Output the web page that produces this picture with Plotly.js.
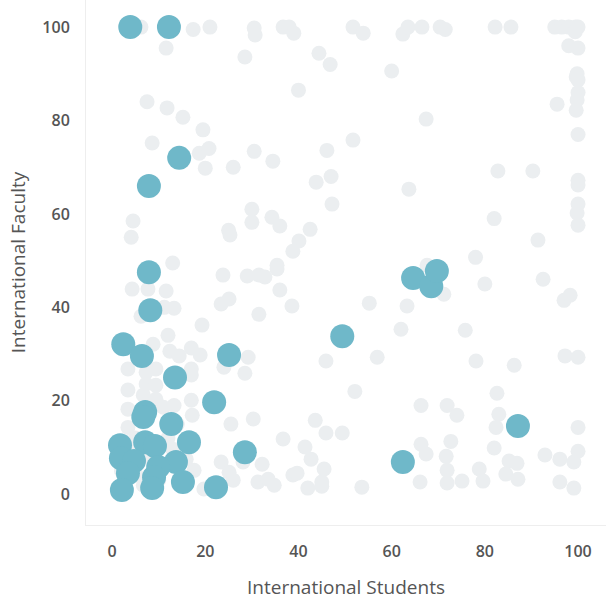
<!DOCTYPE html>
<html>
<head>
<meta charset="utf-8">
<script src="https://cdn.plot.ly/plotly-3.0.1.min.js"></script>
<style>html,body{margin:0;padding:0;background:#fff;}#chart{width:606px;height:600px;}</style>
</head>
<body>
<div id="chart"></div>
<script>
// Other universities (grey)
const otherStudents = [6.2,17.4,21,11.6,30.5,30.7,28.5,36.7,38,39,51.7,53.9,62.4,63.5,66.5,70.4,71.5,82.2,85.6,95,96.5,98,99.5,100,99.4,98,100,44.4,46.8,60,40,67.4,99.8,99.6,100,100,99.8,99.6,95.5,100,7.5,11.8,15.2,19.5,8.6,18.7,20.8,20,26,30.5,51.7,46.1,34.5,47,43.8,63.7,47.2,82.8,90.3,100,100,100,99.8,100,82,91.4,78,30,30,4.5,4.1,25,25.3,34.3,36,42.5,40.1,38.8,35.4,13,
4.3,7.7,11.6,23.8,29,31.5,32.8,35.4,36,38.6,23.4,25.1,13.3,11.2,6.2,31.5,19.3,12,8.8,12.4,17,18.9,14.4,3.4,7.3,9.4,17,17,29.2,28.5,24,7.3,9.4,3.4,6.7,9.4,17,13.3,11,3.4,17.2,25.5,30.3,3.4,13,15.9,17.6,23.4,25.1,26,19.7,31.3,28.1,5.2,6.7,
55.2,63.3,62,56.9,45.9,52.1,66.3,43.6,45.9,49.4,36.7,41.4,42.7,45.5,45,45,38.8,39.7,42,32.2,33.5,34.8,53.6,66.3,67.4,66.1,
71.2,80,92.5,97,98.3,75.8,78.1,86.3,97.2,100,82.6,71.9,74,83,82.4,100,72.7,82,71.7,71.9,71.9,75.1,78.8,79.6,85.2,86.9,84.5,87.1,92.9,96.1,99.1,100,96.1,99.1,67.6,
5,8,12,4,10,2,14];
const otherFaculty = [100,99.5,100,95.5,99.8,98.3,93.6,100,100,98.7,100,98.7,98.5,100,100,100,99.5,100,100,100,100,100,100,100,99,96,95.5,94.4,92,90.6,86.5,80.3,90,89.3,88.7,86,84.4,82.2,83.5,77,84,82.7,80.7,78,75.2,73,74,69.8,70,73.4,75.8,73.6,71.3,68,66.8,65.3,62.1,69.2,69.2,67.2,66.2,62.1,60.2,57.6,59,54.4,50.7,61,58.2,58.5,55,56.5,55.5,59.3,57.4,56.7,54.2,52,49,49.5,
43.9,43.9,43.5,46.9,46.7,46.9,46.5,48.2,43.7,40.3,40.7,41.8,39.8,40,38.1,38.5,36.2,34,32.1,30.6,31.3,29.8,29.6,26.8,26.1,26.8,26.8,25.5,29.3,25.9,27.2,23.6,23.3,22.3,21.2,20.3,20.1,19,18.6,18.2,16.9,15,16.1,14.3,9.6,7.5,5.1,6.9,4.7,3,1.1,2.6,6.9,4.1,1.9,
40.9,40.3,35.3,29.3,28.5,22,19,15.8,13.1,13.1,11.8,10.1,7.5,5.4,2.6,1.7,4.1,4.5,1.3,6.4,3.2,1.9,1.5,10.7,8.6,2.6,
42.8,45,46,41.5,42.6,35.1,28.5,27.6,29.6,29.3,21.6,19,16.9,17.1,14.3,14.3,11.3,9.9,8.1,5.1,2.4,2.8,5.4,2.8,7.1,6.6,4.3,3.2,8.4,7.5,6.9,9.2,2.6,1.3,49,
12,8,12,10,3,5,15];

// Highlighted universities (blue)
const highlightStudents = [3.9,12.2,14.4,7.9,7.9,8.2,2.4,6.4,13.5,25.1,21.9,7.1,6.7,12.7,16.5,1.7,7.1,9.2,1.9,4.7,3.4,13.7,9.9,9,15.2,8.6,2.1,22.3,28.5,49.4,64.6,68.5,69.7,62.4,87.1];
const highlightFaculty = [100,100,72,66,47.5,39.4,32.1,29.6,25,29.8,19.7,17.6,16.5,15,11.1,10.5,11.1,10.3,7.7,7.1,4.5,6.9,5.8,3.6,2.6,1.3,0.9,1.5,9,33.8,46.3,44.5,47.8,6.9,14.6];

const xTicks = [0,20,40,60,80,100];
const yTicks = [0,20,40,60,80,100];
const xTitle = "International Students";
const yTitle = "International Faculty";

const fontFam = "'Open Sans', sans-serif";
const data = [
  {x: otherStudents, y: otherFaculty, type: 'scatter', mode: 'markers',
   marker: {color: '#EBEEF0', size: 15, line: {width: 0}}, hoverinfo: 'skip'},
  {x: highlightStudents, y: highlightFaculty, type: 'scatter', mode: 'markers',
   marker: {color: '#6FB8C9', size: 24, line: {width: 0}}, hoverinfo: 'skip'}
];
const axisCommon = {
  showgrid: false, zeroline: false, showline: true, linecolor: '#EEEEEE', linewidth: 1,
  ticks: '', ticklabelstandoff: 12,
  tickfont: {family: fontFam, size: 16, color: '#555555', weight: 600},
  mirror: false, fixedrange: true
};
const titleFont = {family: fontFam, size: 19, color: '#555555', weight: 400};
const layout = {
  width: 606, height: 600,
  margin: {l: 86, r: 0, t: 0, b: 75},
  paper_bgcolor: '#ffffff', plot_bgcolor: '#ffffff',
  showlegend: false,
  xaxis: Object.assign({}, axisCommon, {
    range: [-5.6, 106], tickvals: xTicks, ticktext: xTicks.map(String),
    title: {text: xTitle, font: titleFont, standoff: 19}
  }),
  yaxis: Object.assign({}, axisCommon, {
    range: [-6.6, 105.8], tickvals: yTicks, ticktext: yTicks.map(String),
    title: {text: yTitle, font: titleFont, standoff: 11}
  })
};
Plotly.newPlot('chart', data, layout, {displayModeBar: false, staticPlot: true});
</script>
</body>
</html>
